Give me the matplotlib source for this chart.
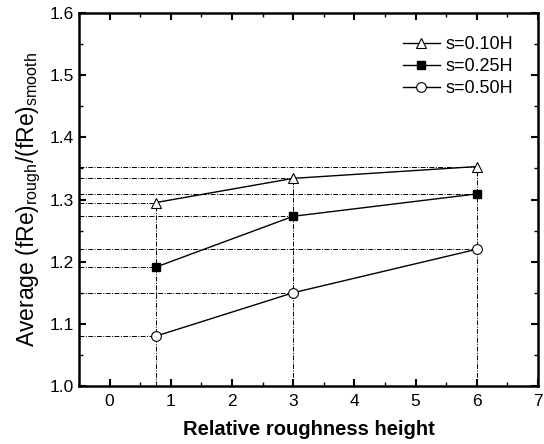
import matplotlib
matplotlib.use("Agg")
import matplotlib.pyplot as plt
from matplotlib.ticker import MultipleLocator

plt.rcParams['font.family'] = ['Liberation Sans', 'DejaVu Sans']
plt.rcParams['mathtext.fontset'] = 'custom'
plt.rcParams['mathtext.rm'] = 'Liberation Sans'
plt.rcParams['mathtext.it'] = 'Liberation Sans'

x = [0.75, 3, 6]
s010 = [1.295, 1.334, 1.353]
s025 = [1.191, 1.273, 1.309]
s050 = [1.080, 1.150, 1.220]
labels = ['s=0.10H', 's=0.25H', 's=0.50H']

fig = plt.figure(figsize=(5.44, 4.44), dpi=100)
ax = fig.add_axes([79/544, 1 - 386/444, (538-79)/544, (386-13)/444])

xmin, ymin = -0.5, 1.0
guide = dict(color='black', lw=0.7, ls=(0, (5, 1.5, 1, 1.5)), zorder=1)
for ys in (s010, s025, s050):
    for xi, yi in zip(x, ys):
        ax.plot([xmin, xi], [yi, yi], **guide)
for xi, yi in zip(x, s010):
    ax.plot([xi, xi], [ymin, yi], **guide)

ax.plot(x, s010, '-', color='black', lw=1, marker='^', ms=7, mfc='white', mec='black', mew=0.8, label=labels[0], zorder=3)
ax.plot(x, s025, '-', color='black', lw=1, marker='s', ms=6, mfc='black', mec='black', label=labels[1], zorder=3)
ax.plot(x, s050, '-', color='black', lw=1, marker='o', ms=7, mfc='white', mec='black', mew=0.8, label=labels[2], zorder=3)

ax.set_xlim(-0.5, 7)
ax.set_ylim(1.0, 1.6)
ax.xaxis.set_major_locator(MultipleLocator(1))
ax.xaxis.set_minor_locator(MultipleLocator(0.5))
ax.yaxis.set_major_locator(MultipleLocator(0.1))
ax.yaxis.set_minor_locator(MultipleLocator(0.05))
ax.yaxis.set_major_formatter(matplotlib.ticker.FormatStrFormatter('%.1f'))
ax.tick_params(which='both', direction='in', top=True, right=True, labelsize=12.5)
ax.tick_params(which='major', length=5, width=1.5)
ax.tick_params(which='minor', length=3, width=1)
ax.tick_params(axis='x', pad=6)
for sp in ax.spines.values():
    sp.set_linewidth(1.8)

ax.set_xlabel('Relative roughness height', fontsize=14.5, fontweight='bold', labelpad=8)
ax.set_ylabel('Average (fRe)$_{\\mathrm{rough}}$/(fRe)$_{\\mathrm{smooth}}$', fontsize=16.5, labelpad=5)

ax.legend(loc='upper right', frameon=False, fontsize=13, handlelength=2.05,
          handletextpad=0.3, labelspacing=0.28, bbox_to_anchor=(0.961, 0.957), borderaxespad=0.0)

fig.savefig('out.png', dpi=100)
